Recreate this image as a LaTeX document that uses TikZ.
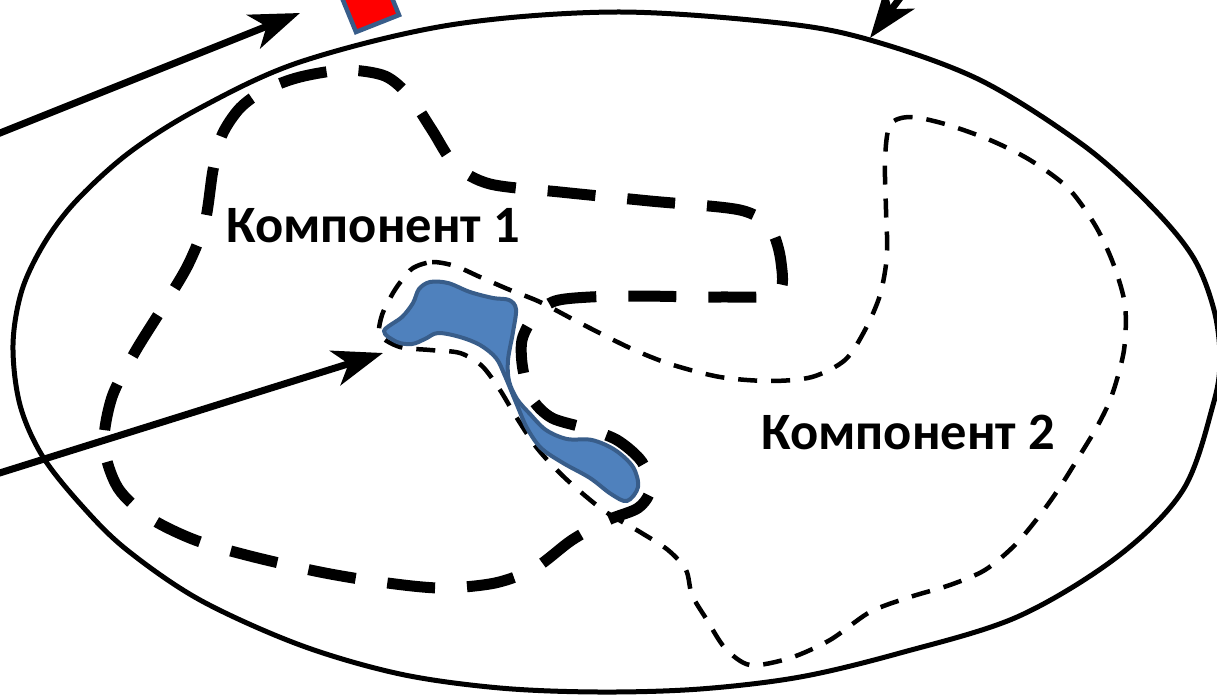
\documentclass[tikz,border=0pt]{standalone}
\usepackage{fontspec}
\setmainfont{Carlito}
\usetikzlibrary{arrows.meta}
\definecolor{blobfill}{HTML}{4F81BD}
\definecolor{blobedge}{HTML}{385D8A}
\begin{document}
\begin{tikzpicture}[x=1pt,y=-1pt,
  outline/.style={line width=5pt},
  pointer/.style={line width=7pt, -{Stealth[length=50pt,width=36pt,inset=14pt]}},
  bigdash/.style={line width=11pt, dash pattern=on 48pt off 32pt},
  smalldash/.style={line width=4.5pt, dash pattern=on 19pt off 14pt},
  comptext/.style={font=\fontsize{52.5}{58}\selectfont\bfseries, inner sep=0pt, anchor=base}]
\useasboundingbox (0,0) rectangle (1217,694);
\clip (0,0) rectangle (1217,694);

% outer region
\draw[outline] plot[smooth cycle, tension=0.55] coordinates{
  (13,345) (22,290) (45,242) (77,200) (130,152) (200,108) (300,62) (450,25)
  (615,12) (780,23) (870,40) (980,80) (1083,145) (1150,205) (1193,257)
  (1214,310) (1220,360) (1213,405) (1183,490) (1117,557) (1017,617)
  (900,653) (800,677) (700,689) (600,692) (500,688) (400,674) (300,645)
  (200,600) (127,550) (83,507) (43,457) (20,405)};

% boundary of component 1
\draw[bigdash] plot[smooth cycle, tension=0.5] coordinates{
  (213,170) (222,135) (240,108) (265,90) (300,77) (345,70) (385,76) (410,97)
  (432,130) (455,165) (490,184) (560,192) (650,201) (740,210) (770,228)
  (781,262) (777,294) (720,297) (640,296) (590,297) (555,301) (535,315)
  (522,340) (523,370) (533,400) (552,418) (585,428) (617,440) (642,462)
  (650,490) (638,508) (608,520) (572,540) (535,568) (495,583) (440,588)
  (380,582) (320,572) (250,556) (195,540) (150,518) (118,488) (104,445)
  (112,397) (135,352) (163,307) (188,265) (205,222)};

% boundary of component 2
\draw[smalldash] plot[smooth cycle, tension=0.5] coordinates{
  (413,268) (432,262) (455,266) (480,277) (510,290) (540,302) (580,323)
  (630,348) (670,364) (720,377) (770,381) (812,377) (845,360) (865,330)
  (880,295) (887,255) (886,210) (885,160) (890,125) (910,117) (945,124)
  (990,140) (1030,160) (1068,188) (1095,225) (1113,263) (1125,305)
  (1124,350) (1112,395) (1098,425) (1080,455) (1060,487) (1040,515)
  (1015,545) (985,570) (950,585) (910,597) (870,612) (830,640) (790,658)
  (750,665) (725,648) (707,620) (692,595) (686,570) (668,550) (640,532)
  (603,510) (565,478) (537,448) (515,415) (500,390) (482,366) (460,353)
  (430,350) (400,347) (380,335) (382,315) (393,293) (402,280)};

% the shaded piece shared by both components
\draw[draw=blobedge, fill=blobfill, line width=4pt, line join=round]
  plot[smooth cycle, tension=0.55] coordinates{
  (384,331) (402,317) (413,303) (419,289) (430,282) (448,283) (470,292)
  (493,298) (509,300) (516,309) (513,332) (508,360) (509,381) (517,399)
  (530,414) (546,430) (567,439) (592,440) (615,450) (633,467) (638,487)
  (627,501) (611,494) (590,478) (563,463) (541,448) (527,428) (517,405)
  (505,376) (496,358) (480,345) (460,337) (438,333) (425,339) (412,344)
  (397,342)};

% marker square at the top
\draw[draw=blobedge, fill=red, line width=4.5pt]
  (356,32) -- (399,15) -- (381,-29) -- (338,-12) -- cycle;

% arrow ends
\coordinate (a1s) at (-10,137);
\coordinate (a1e) at (300,13);
\coordinate (a2s) at (942,-58);
\coordinate (a2e) at (870,38);
\coordinate (a3s) at (-10,476);
\coordinate (a3e) at (383,353);
\draw[pointer] (a1s) -- (a1e);
\draw[pointer] (a2s) -- (a2e);
\draw[pointer] (a3s) -- (a3e);

% labels
\node[comptext] (c1) at (373,242) {Компонент 1};
\node[comptext] (c2) at (908,449) {Компонент 2};
\end{tikzpicture}
\end{document}
